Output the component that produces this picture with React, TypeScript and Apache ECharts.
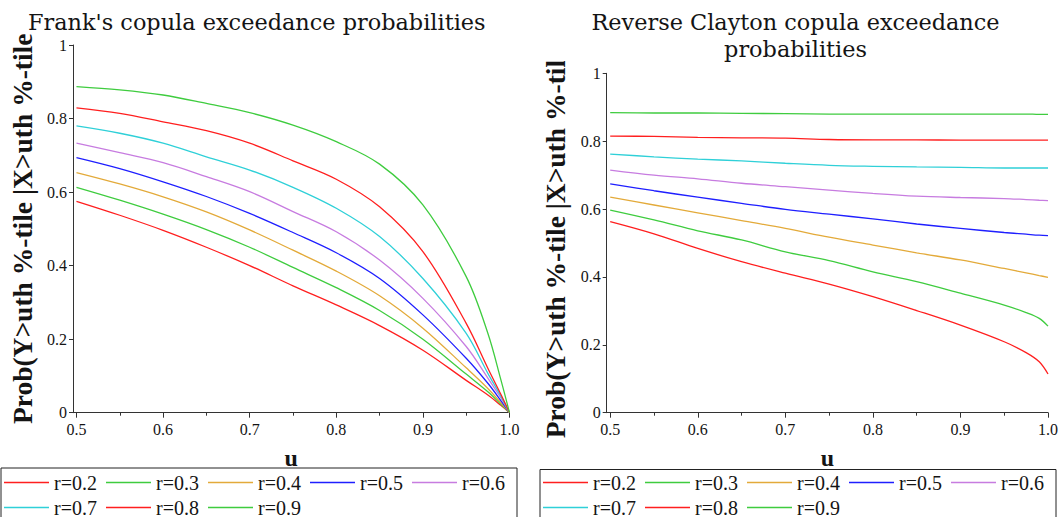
import React, { useEffect, useRef } from "react";
import * as echarts from "echarts";

const U = [0.5, 0.55, 0.6, 0.65, 0.7, 0.75, 0.8, 0.85, 0.9, 0.95, 0.975, 0.99, 1.0];

const seriesNames = ["r=0.2", "r=0.3", "r=0.4", "r=0.5", "r=0.6", "r=0.7", "r=0.8", "r=0.9"];
const seriesColors = ["#ff1f1f", "#3fcc3f", "#e3aa3a", "#1f1fff", "#c77ce0", "#2fd0d8", "#ff1f1f", "#3fcc3f"];

// Frank's copula exceedance probabilities
const frank02 = [0.575, 0.537, 0.496, 0.45, 0.4, 0.345, 0.293, 0.237, 0.17, 0.088, 0.048, 0.02, 0];
const frank03 = [0.613, 0.578, 0.54, 0.498, 0.45, 0.395, 0.34, 0.278, 0.2, 0.105, 0.057, 0.023, 0];
const frank04 = [0.653, 0.622, 0.587, 0.546, 0.497, 0.442, 0.385, 0.318, 0.23, 0.122, 0.066, 0.027, 0];
const frank05 = [0.694, 0.664, 0.628, 0.588, 0.542, 0.49, 0.435, 0.365, 0.266, 0.148, 0.08, 0.033, 0];
const frank06 = [0.733, 0.707, 0.68, 0.642, 0.601, 0.547, 0.492, 0.415, 0.311, 0.18, 0.094, 0.04, 0];
const frank07 = [0.78, 0.76, 0.733, 0.696, 0.66, 0.613, 0.556, 0.479, 0.365, 0.216, 0.107, 0.045, 0];
const frank08 = [0.829, 0.814, 0.791, 0.767, 0.733, 0.685, 0.635, 0.56, 0.438, 0.243, 0.121, 0.05, 0];
const frank09 = [0.887, 0.878, 0.864, 0.841, 0.816, 0.782, 0.737, 0.676, 0.565, 0.37, 0.216, 0.09, 0];

// Reverse Clayton copula exceedance probabilities
const clayton02 = [0.563, 0.527, 0.484, 0.445, 0.411, 0.379, 0.342, 0.301, 0.258, 0.209, 0.177, 0.15, 0.114];
const clayton03 = [0.597, 0.568, 0.536, 0.509, 0.474, 0.448, 0.415, 0.386, 0.352, 0.317, 0.295, 0.278, 0.255];
const clayton04 = [0.635, 0.612, 0.589, 0.566, 0.543, 0.517, 0.494, 0.471, 0.45, 0.425, 0.412, 0.404, 0.399];
const clayton05 = [0.674, 0.654, 0.635, 0.617, 0.599, 0.585, 0.571, 0.556, 0.543, 0.531, 0.526, 0.523, 0.522];
const clayton06 = [0.715, 0.7, 0.689, 0.676, 0.666, 0.656, 0.646, 0.638, 0.634, 0.631, 0.628, 0.626, 0.625];
const clayton07 = [0.762, 0.754, 0.747, 0.742, 0.735, 0.729, 0.726, 0.724, 0.723, 0.721, 0.721, 0.721, 0.721];
const clayton08 = [0.815, 0.814, 0.811, 0.81, 0.809, 0.805, 0.804, 0.804, 0.803, 0.803, 0.803, 0.803, 0.803];
const clayton09 = [0.884, 0.883, 0.883, 0.882, 0.881, 0.88, 0.88, 0.88, 0.88, 0.88, 0.88, 0.879, 0.879];

const frankValues = [frank02, frank03, frank04, frank05, frank06, frank07, frank08, frank09];
const claytonValues = [clayton02, clayton03, clayton04, clayton05, clayton06, clayton07, clayton08, clayton09];

const xTickValues = [0.5, 0.6, 0.7, 0.8, 0.9, 1.0];
const xMinorTickValues = [0.55, 0.65, 0.75, 0.85, 0.95];
const yAxisTitle = "Prob(Y>uth %-tile |X>uth %-tile";
const xAxisTitle = "u";

const SERIF = "'Liberation Serif', 'Times New Roman', serif";
const TITLE_FONT = "'DejaVu Serif', serif";
const AXIS_COLOR = "#333";
const TEXT_COLOR = "#141414";

interface Layout {
  title: string;
  titleLeft: number | string;
  titleTop: number;
  grid: { left: number; top: number; width: number; height: number };
  legendLeft: number;
  legendTop: number;
  legendPadTop: number;
  values: number[][];
  mask?: boolean;
}

function buildOption(l: Layout): any {
  const xMin = 0.496;
  return {
    animation: false,
    backgroundColor: "#fff",
    title: {
      text: l.title,
      left: l.titleLeft,
      top: l.titleTop,
      padding: 0,
      textStyle: {
        fontFamily: TITLE_FONT,
        fontSize: 22.4,
        fontWeight: "normal",
        color: TEXT_COLOR,
        lineHeight: 27,
      },
    },
    grid: { ...l.grid, containLabel: false },
    legend: {
      data: seriesNames,
      left: l.legendLeft,
      top: l.legendTop,
      width: 518,
      orient: "horizontal",
      icon: "rect",
      itemWidth: 45,
      itemHeight: 1.6,
      itemGap: 5,
      padding: [l.legendPadTop, 8, 14, 3],
      borderColor: "#222",
      borderWidth: 1,
      textStyle: { fontFamily: SERIF, fontSize: 20, color: TEXT_COLOR, lineHeight: 19, width: 47 },
    },
    xAxis: [
      {
        type: "value",
        min: xMin,
        max: 1.0,
        axisLine: { show: true, lineStyle: { color: AXIS_COLOR, width: 1 } },
        axisTick: { show: true, customValues: xTickValues, length: 5, lineStyle: { color: AXIS_COLOR } },
        axisLabel: {
          customValues: xTickValues,
          formatter: (v: number) => v.toFixed(1),
          fontFamily: SERIF,
          fontSize: 16,
          color: TEXT_COLOR,
          margin: 9,
        },
        splitLine: { show: false },
        name: xAxisTitle,
        nameLocation: "middle",
        nameGap: 33,
        nameTextStyle: { fontFamily: SERIF, fontSize: 24, fontWeight: "bold", color: TEXT_COLOR },
      },
      {
        type: "value",
        min: xMin,
        max: 1.0,
        position: "bottom",
        axisLine: { show: false },
        axisTick: { show: true, customValues: xMinorTickValues, length: 3, lineStyle: { color: AXIS_COLOR } },
        axisLabel: { show: false },
        splitLine: { show: false },
      },
    ],
    yAxis: {
      type: "value",
      min: 0,
      max: 1,
      interval: 0.2,
      axisLine: { show: true, lineStyle: { color: AXIS_COLOR, width: 1 } },
      axisTick: { show: true, length: 4, lineStyle: { color: AXIS_COLOR } },
      axisLabel: { fontFamily: SERIF, fontSize: 16, color: TEXT_COLOR, margin: 6 },
      splitLine: { show: false },
      name: yAxisTitle,
      nameLocation: "middle",
      nameGap: 37,
      nameTextStyle: { fontFamily: SERIF, fontSize: 27.5, fontWeight: "bold", color: TEXT_COLOR },
    },
    graphic: l.mask
      ? [
          {
            type: "rect",
            z: 100,
            shape: { x: 5, y: 0, width: 45, height: 61 },
            style: { fill: "#fff" },
          },
        ]
      : [],
    series: seriesNames.map((name, i) => ({
      name,
      type: "line",
      xAxisIndex: 0,
      yAxisIndex: 0,
      showSymbol: false,
      symbol: "none",
      smooth: 0.35,
      color: seriesColors[i],
      lineStyle: { width: 1.3, color: seriesColors[i] },
      data: U.map((u, k) => [u, l.values[i][k]]),
    })),
  };
}

function ChartBox(props: { layout: Layout; left: number; width: number }) {
  const ref = useRef<HTMLDivElement>(null);
  useEffect(() => {
    if (!ref.current) return;
    const chart = echarts.init(ref.current, undefined, { renderer: "svg" });
    chart.setOption(buildOption(props.layout));
    return () => chart.dispose();
  }, []);
  return (
    <div
      ref={ref}
      style={{ position: "absolute", left: props.left, top: 0, width: props.width, height: 517 }}
    />
  );
}

const leftLayout: Layout = {
  title: "Frank's copula exceedance probabilities",
  titleLeft: 28,
  titleTop: 8,
  grid: { left: 65, top: 45, width: 444.5, height: 367.7 },
  legendLeft: 1,
  legendTop: 468,
  legendPadTop: 4.5,
  values: frankValues,
};

const rightLayout: Layout = {
  title: "Reverse Clayton copula exceedance\nprobabilities",
  titleLeft: "center",
  titleTop: 8,
  grid: { left: 76.7, top: 73.3, width: 446, height: 339.4 },
  legendLeft: 10,
  legendTop: 469.5,
  legendPadTop: 3,
  values: claytonValues,
  mask: true,
};

export default function App() {
  return (
    <div style={{ position: "fixed", left: 0, top: 0, width: 1061, height: 517, background: "#fff", overflow: "hidden" }}>
      <ChartBox layout={leftLayout} left={0} width={530} />
      <ChartBox layout={rightLayout} left={530} width={531} />
    </div>
  );
}
